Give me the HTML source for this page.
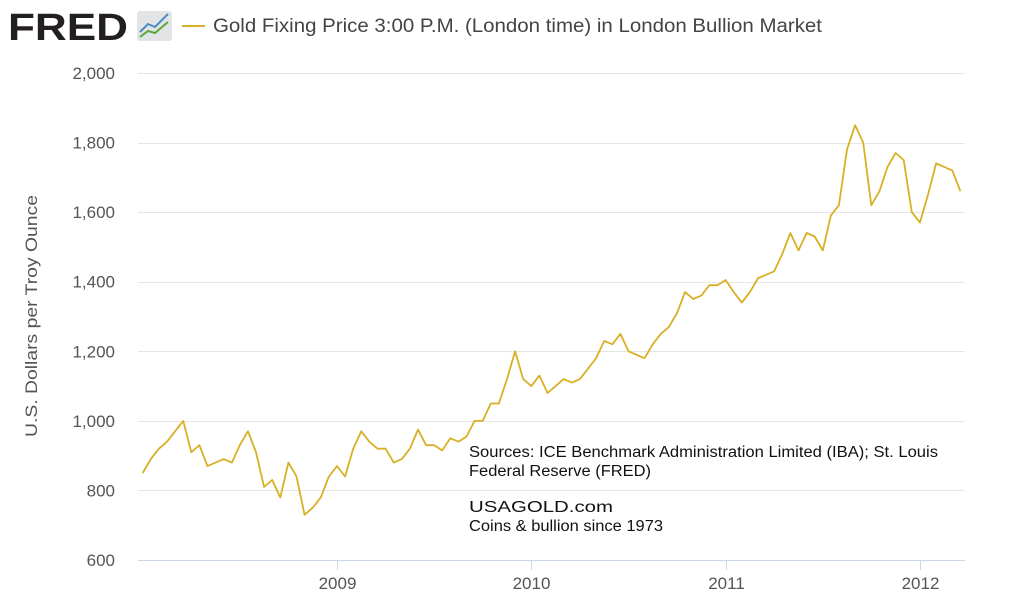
<!DOCTYPE html>
<html><head><meta charset="utf-8"><style>
body{margin:0;background:#fff;width:1024px;height:611px;overflow:hidden;font-family:"Liberation Sans",sans-serif}
</style></head><body>
<svg width="1024" height="611" xmlns="http://www.w3.org/2000/svg">
<g>
<text x="8" y="40" font-size="38" font-weight="bold" fill="#231f20" font-family="Liberation Sans" textLength="120" lengthAdjust="spacingAndGlyphs">FRED</text>
<rect x="137" y="11" width="35" height="30" rx="3" fill="#e2e4e6"/>
<polyline points="140,32 148,24 155,27 168,14" fill="none" stroke="#4a8bc2" stroke-width="2"/>
<polyline points="140,37 148,31 155,33 168,22" fill="none" stroke="#5aa83c" stroke-width="2"/>
</g>
<line x1="182" y1="26" x2="205" y2="26" stroke="#d8b025" stroke-width="2"/>
<text x="213" y="32" font-size="19" fill="#444" textLength="609" lengthAdjust="spacingAndGlyphs">Gold Fixing Price 3:00 P.M. (London time) in London Bullion Market</text>
<g id="grid"></g>
<g id="yt"></g>
<text x="37" y="316" font-size="17" fill="#555" text-anchor="middle" textLength="242" lengthAdjust="spacingAndGlyphs" transform="rotate(-90 37 316)">U.S. Dollars per Troy Ounce</text>
<line x1="138" y1="560.5" x2="965" y2="560.5" stroke="#ccd6eb" stroke-width="1"/>
<g id="xt"></g>
<path id="line" fill="none" stroke="#d8b025" stroke-width="1.8" stroke-linejoin="round"/>
<g font-size="15.5" fill="#111">
<text x="469" y="457" textLength="469" lengthAdjust="spacingAndGlyphs">Sources:  ICE Benchmark Administration Limited (IBA); St. Louis</text>
<text x="469" y="476" textLength="182" lengthAdjust="spacingAndGlyphs">Federal Reserve (FRED)</text>
<text x="469" y="512" textLength="144" lengthAdjust="spacingAndGlyphs">USAGOLD.com</text>
<text x="469" y="531" textLength="194" lengthAdjust="spacingAndGlyphs">Coins &amp; bullion since 1973</text>
</g>
</svg>
<script>
const startYear = 2008;
const perYear = 24;
const prices = [
850,890,920,940,970,1000,910,930,870,880,890,880,930,970,910,810,830,780,880,840,730,750,780,840,
870,840,920,970,940,920,920,880,890,920,975,930,930,915,950,940,955,1000,1000,1050,1050,1120,1200,1120,
1100,1130,1080,1100,1120,1110,1120,1150,1180,1230,1220,1250,1200,1190,1180,1220,1250,1270,1310,1370,1350,1360,1390,1390,
1405,1370,1340,1370,1410,1420,1430,1480,1540,1490,1540,1530,1490,1590,1620,1780,1850,1800,1620,1660,1730,1770,1750,1600,
1570,1650,1740,1730,1720,1660];
const yTicks = [600,800,1000,1200,1400,1600,1800,2000];
const xTicks = [2009,2010,2011,2012];
const ns = "http://www.w3.org/2000/svg";
function yS(v){return 560 - (v-600)*(487/1400);}
function xS(t){return 142.7 + (t-2008)*194.3;}
const grid=document.getElementById('grid'), yt=document.getElementById('yt'), xt=document.getElementById('xt');
yTicks.forEach(v=>{
  if(v>600){const l=document.createElementNS(ns,'line');
  l.setAttribute('x1',138);l.setAttribute('x2',965);l.setAttribute('y1',Math.round(yS(v))+0.5);l.setAttribute('y2',Math.round(yS(v))+0.5);
  l.setAttribute('stroke','#e6e6e6');
  
  
  grid.appendChild(l);}
  const t=document.createElementNS(ns,'text');
  t.setAttribute('x',115);t.setAttribute('y',yS(v)+6);t.setAttribute('text-anchor','end');t.setAttribute('font-size','17');t.setAttribute('fill','#555');
  t.textContent=v.toLocaleString('en-US');
  
  
  yt.appendChild(t);
});
xTicks.forEach(y=>{
  const l=document.createElementNS(ns,'line');
  const x=Math.round(xS(y))+0.5;
  l.setAttribute('x1',x);l.setAttribute('x2',x);l.setAttribute('y1',560);l.setAttribute('y2',570);l.setAttribute('stroke','#ccd6eb');
  
  
  xt.appendChild(l);
  const t=document.createElementNS(ns,'text');
  t.setAttribute('x',x);t.setAttribute('y',589);t.setAttribute('text-anchor','middle');t.setAttribute('font-size','17');t.setAttribute('fill','#555');
  t.textContent=y;
  
  
  xt.appendChild(t);
});
let d='';
prices.forEach((v,i)=>{d+=(i?'L':'M')+xS(startYear+i/perYear).toFixed(1)+','+yS(v).toFixed(1);});
document.getElementById('line').setAttribute('d',d);
</script>
</body></html>
